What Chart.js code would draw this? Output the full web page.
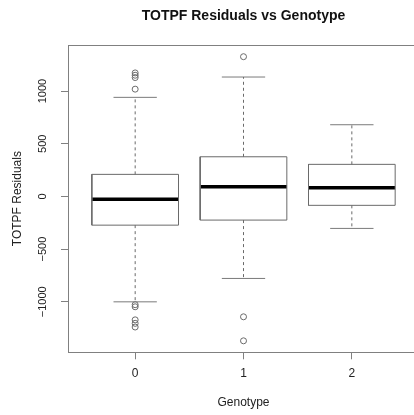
<!DOCTYPE html>
<html lang="en">
<head>
<meta charset="UTF-8">
<title>TOTPF Residuals vs Genotype</title>
<script src="https://cdn.jsdelivr.net/npm/chart.js"></script>
<style>
    html, body {
        margin: 0;
        padding: 0;
        background: #ffffff;
        overflow: hidden;
    }
    #box {
        display: block;
    }
</style>
</head>
<body>
<canvas id="box" width="430" height="415"></canvas>
<script>
// box summary per genotype
const genotypes = [0, 1, 2];
const lowerWhisker = [-1001, -779, -304];
const lowerQuartile = [-273, -225, -85];
const medians = [-28, 91, 82];
const upperQuartile = [209, 376, 304];
const upperWhisker = [940, 1133, 680];
const outliers = [
    [1172, 1150, 1128, 1018, -1028, -1048, -1172, -1205, -1240],
    [1326, -1143, -1371],
    []
];
const yTicks = [-1000, -500, 0, 500, 1000];
const xTicks = [0, 1, 2];

const yMin = -1480, yMax = 1437;
const xMin = -0.62, xMax = 2.62;
const boxHalf = 0.4, capHalf = 0.2;

const lineGrey = '#6a6a6a';
const textColor = '#222222';
const fontFamily = '"Liberation Sans", Arial, sans-serif';

function segment(points, extra) {
    return Object.assign({
        type: 'scatter',
        data: points,
        showLine: true,
        pointRadius: 0,
        borderColor: lineGrey,
        borderWidth: 1,
        fill: false
    }, extra || {});
}

const datasets = [];
genotypes.forEach((g, i) => {
    // box outline
    datasets.push(segment([
        { x: g - boxHalf, y: lowerQuartile[i] },
        { x: g + boxHalf, y: lowerQuartile[i] },
        { x: g + boxHalf, y: upperQuartile[i] },
        { x: g - boxHalf, y: upperQuartile[i] },
        { x: g - boxHalf, y: lowerQuartile[i] }
    ]));
    // whiskers (dashed)
    datasets.push(segment([{ x: g, y: upperQuartile[i] }, { x: g, y: upperWhisker[i] }], { borderDash: [3, 3] }));
    datasets.push(segment([{ x: g, y: lowerQuartile[i] }, { x: g, y: lowerWhisker[i] }], { borderDash: [3, 3] }));
    // staples
    datasets.push(segment([{ x: g - capHalf, y: upperWhisker[i] }, { x: g + capHalf, y: upperWhisker[i] }], { borderColor: '#7a7a7a' }));
    datasets.push(segment([{ x: g - capHalf, y: lowerWhisker[i] }, { x: g + capHalf, y: lowerWhisker[i] }], { borderColor: '#7a7a7a' }));
    // median
    datasets.push(segment([{ x: g - boxHalf, y: medians[i] }, { x: g + boxHalf, y: medians[i] }], { borderColor: '#000000', borderWidth: 3.5 }));
    // outliers
    datasets.push({
        type: 'scatter',
        data: outliers[i].map(v => ({ x: g, y: v })),
        showLine: false,
        pointStyle: 'circle',
        pointRadius: 3,
        pointBorderWidth: 1,
        pointBorderColor: '#6a6a6a',
        pointBackgroundColor: 'rgba(0,0,0,0)'
    });
});

// frame, rotated y labels and titles (R style)
const rStyle = {
    id: 'rStyle',
    afterDraw(chart) {
        const ctx = chart.ctx;
        const area = chart.chartArea;
        const y = chart.scales.y;
        ctx.save();
        ctx.strokeStyle = '#808080';
        ctx.lineWidth = 1;
        ctx.strokeRect(Math.round(area.left) + 0.5, Math.round(area.top) + 0.5,
            Math.round(area.right - area.left), Math.round(area.bottom - area.top));

        ctx.fillStyle = textColor;
        ctx.textAlign = 'center';
        ctx.textBaseline = 'middle';

        // y tick labels, rotated like R's default las = 0
        ctx.font = '11px ' + fontFamily;
        yTicks.forEach(v => {
            const py = y.getPixelForValue(v);
            ctx.save();
            ctx.translate(43, py);
            ctx.rotate(-Math.PI / 2);
            ctx.fillText(v < 0 ? '\u2212' + Math.abs(v) : String(v), 0, 0);
            ctx.restore();
        });

        // y axis title
        ctx.font = '12px ' + fontFamily;
        ctx.save();
        ctx.translate(18, (area.top + area.bottom) / 2);
        ctx.rotate(-Math.PI / 2);
        ctx.fillText('TOTPF Residuals', 0, 0);
        ctx.restore();

        // x axis title
        const cx = (area.left + area.right) / 2;
        ctx.fillText('Genotype', cx, 403);

        // main title
        ctx.fillStyle = '#111111';
        ctx.font = 'bold 14px ' + fontFamily;
        ctx.textBaseline = 'alphabetic';
        ctx.fillText('TOTPF Residuals vs Genotype', cx, 20);
        ctx.restore();
    }
};

const ctx = document.getElementById('box').getContext('2d');
new Chart(ctx, {
    type: 'scatter',
    data: { datasets: datasets },
    options: {
        responsive: false,
        animation: false,
        layout: { padding: { top: 45, right: 11, bottom: 0, left: 0 } },
        plugins: {
            legend: { display: false },
            tooltip: { enabled: false },
            title: { display: false }
        },
        scales: {
            x: {
                type: 'linear',
                min: xMin,
                max: xMax,
                afterBuildTicks: scale => { scale.ticks = xTicks.map(v => ({ value: v })); },
                afterFit: scale => { scale.height = 62.7; },
                border: { display: false },
                grid: { drawOnChartArea: false, drawTicks: true, tickLength: 7, color: '#808080' },
                ticks: {
                    color: textColor,
                    padding: 7,
                    font: { size: 12, family: fontFamily },
                    callback: v => String(v)
                }
            },
            y: {
                type: 'linear',
                min: yMin,
                max: yMax,
                afterBuildTicks: scale => { scale.ticks = yTicks.map(v => ({ value: v })); },
                afterFit: scale => { scale.width = 68; },
                border: { display: false },
                grid: { drawOnChartArea: false, drawTicks: true, tickLength: 7, color: '#808080' },
                ticks: { display: false }
            }
        }
    },
    plugins: [rStyle]
});
</script>
</body>
</html>
